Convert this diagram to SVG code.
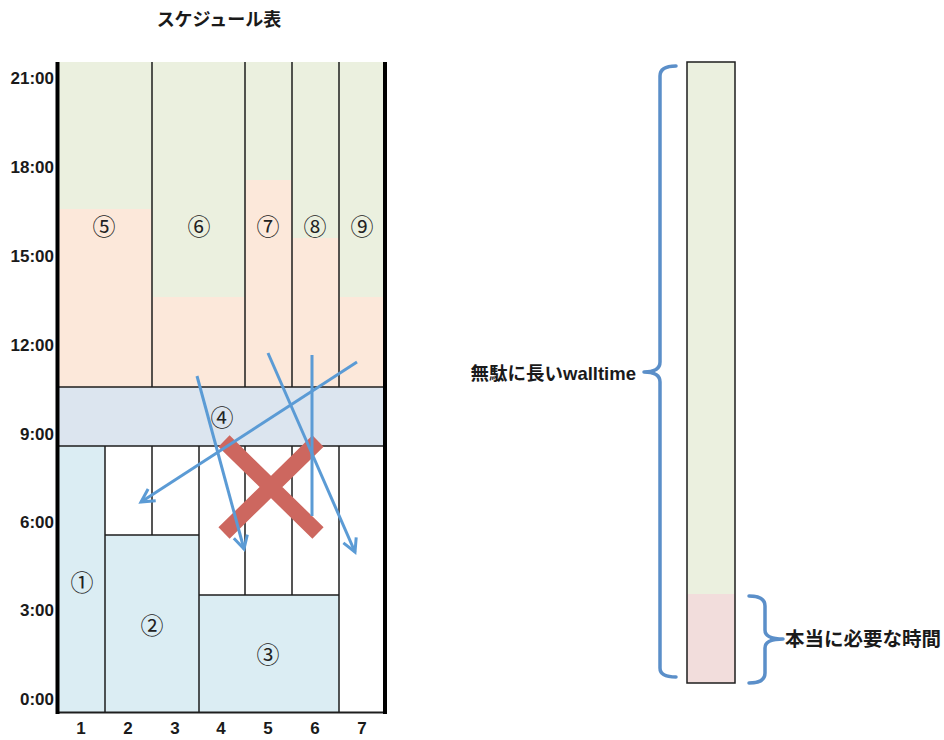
<svg xmlns="http://www.w3.org/2000/svg" width="944" height="740" viewBox="0 0 944 740">
<style>
.ax{font-family:"Liberation Sans","Noto Sans CJK JP",sans-serif;font-size:17px;font-weight:bold;fill:#1a1a1a;text-anchor:end}
.cl{font-family:"Liberation Sans","Noto Sans CJK JP",sans-serif;font-size:17px;font-weight:bold;fill:#1a1a1a;text-anchor:middle}
.num{font-family:"Noto Sans CJK JP",sans-serif;font-size:23px;fill:#222;text-anchor:middle}
.lbl{font-family:"Liberation Sans","Noto Sans CJK JP",sans-serif;font-size:18.5px;font-weight:bold;fill:#1a1a1a}
.ln{stroke:#1e1e1e;stroke-width:1.5;fill:none}
.green{fill:#ebf0df}
.pink{fill:#fce8da}
.lblue{fill:#dbedf3}
.band{fill:#dce5ef}
.arr{stroke:#5b9bd5;stroke-width:3;fill:none}
.brk{stroke:#5b8fc9;stroke-width:3.5;fill:none;stroke-linecap:round}
.xr{stroke:#cd675f;stroke-width:16}
</style>
<defs>
<marker id="ah" markerUnits="userSpaceOnUse" markerWidth="20" markerHeight="20" viewBox="0 0 20 20" refX="16" refY="10" orient="auto">
<path d="M3,3 L16,10 L3,17" fill="none" stroke="#5b9bd5" stroke-width="3"/>
</marker>
</defs>
<rect width="944" height="740" fill="#fff"/>
<text x="219" y="26" class="lbl" style="font-size:18px;text-anchor:middle">スケジュール表</text>

<g id="axis">
<text class="ax" x="54" y="84">21:00</text>
<text class="ax" x="54" y="173">18:00</text>
<text class="ax" x="54" y="262">15:00</text>
<text class="ax" x="54" y="351">12:00</text>
<text class="ax" x="54" y="440">9:00</text>
<text class="ax" x="54" y="528">6:00</text>
<text class="ax" x="54" y="616">3:00</text>
<text class="ax" x="54" y="705">0:00</text>
<text class="cl" x="81" y="734">1</text>
<text class="cl" x="128" y="734">2</text>
<text class="cl" x="175" y="734">3</text>
<text class="cl" x="221" y="734">4</text>
<text class="cl" x="268" y="734">5</text>
<text class="cl" x="315" y="734">6</text>
<text class="cl" x="362" y="734">7</text>
</g>

<rect x="59" y="62" width="326" height="325" class="green"/>
<g id="job5"><rect x="59" y="209" width="93" height="178" class="pink"/><text class="num" x="104" y="235">⑤</text></g>
<g id="job6"><rect x="152" y="297" width="93" height="90" class="pink"/><text class="num" x="199" y="235">⑥</text></g>
<g id="job7"><rect x="245" y="180" width="47" height="207" class="pink"/><text class="num" x="268" y="235">⑦</text></g>
<g id="job8"><rect x="292" y="238" width="47" height="149" class="pink"/><text class="num" x="315" y="235">⑧</text></g>
<g id="job9"><rect x="339" y="297" width="46" height="90" class="pink"/><text class="num" x="362" y="235">⑨</text></g>
<g id="job4"><rect x="59" y="387" width="326" height="59" class="band"/><text class="num" x="222" y="426">④</text></g>
<g id="job1"><rect x="59" y="446" width="46" height="266" class="lblue"/><text class="num" x="82" y="591">①</text></g>
<g id="job2"><rect x="105" y="535" width="94" height="177" class="lblue"/><text class="num" x="152" y="634">②</text></g>
<g id="job3"><rect x="199" y="595" width="140" height="117" class="lblue"/><text class="num" x="268" y="663">③</text></g>

<g id="grid">
<path class="ln" d="M152,62V387M245,62V387M292,62V387M339,62V387M59,387H385M59,446H385M105,446V712M152,446V535M199,446V712M245,446V595M292,446V595M339,446V712M105,535H199M199,595H339"/>
<path d="M56,712.5H387" stroke="#1e1e1e" stroke-width="2"/>
<path d="M57.5,62V714M385,62V714" stroke="#000" stroke-width="4"/>
</g>

<g id="cross">
<path class="xr" d="M224,441L318,533M318,441L224,533"/>
</g>

<g id="connectors">
<path class="arr" d="M357,362L141,502" marker-end="url(#ah)"/>
<path class="arr" d="M197,376L244,549" marker-end="url(#ah)"/>
<path class="arr" d="M268,353L355,552" marker-end="url(#ah)"/>
<path class="arr" d="M312,355V516"/>
</g>

<g id="bar">
<rect x="687" y="62" width="48" height="532" class="green"/>
<rect x="687" y="594" width="48" height="89" fill="#f2dddc"/>
<rect x="687" y="62" width="48" height="621" class="ln"/>
</g>

<g id="brace-long">
<path class="brk" d="M676,66Q660,66 660,76L660,362Q660,372 644,372M644,372Q660,372 660,382L660,668Q660,677 676,677"/>
<text class="lbl" x="636" y="380" text-anchor="end">無駄に長いwalltime</text>
</g>
<g id="brace-short">
<path class="brk" d="M749,596Q765,596 765,606L765,630Q765,639 783,639M783,639Q765,639 765,648L765,673Q765,683 749,683"/>
<text class="lbl" x="785" y="646" style="font-size:19.5px">本当に必要な時間</text>
</g>
</svg>
